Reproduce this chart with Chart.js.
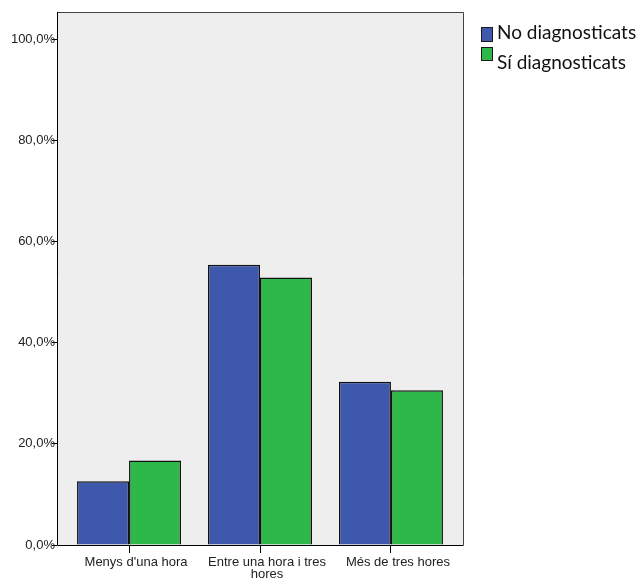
<!DOCTYPE html>
<html>
<head>
<meta charset="utf-8">
<script src="https://cdn.jsdelivr.net/npm/chart.js@4/dist/chart.umd.min.js"></script>
<style>
html,body{margin:0;padding:0;background:#fff;}
canvas{display:block;}
</style>
</head>
<body>
<canvas id="c" width="644" height="584"></canvas>
<script>
const categories = ["Menys d'una hora", ["Entre una hora i tres", "hores"], "Més de tres hores"];
const seriesNames = ["No diagnosticats", "Sí diagnosticats"];
const noDiagnosticats = [12.6, 55.4, 32.3];
const siDiagnosticats = [16.7, 52.9, 30.6];
const yTicks = [0, 20, 40, 60, 80, 100];
const seriesColors = ["#3E58AC", "#2EB84A"];

const toPoints = arr => arr.map((v, i) => ({x: i, y: v}));

const frame = {
  id: 'frame',
  beforeDatasetsDraw(chart) {
    const a = chart.chartArea, c = chart.ctx;
    c.save();
    c.fillStyle = '#EEEEEE';
    c.fillRect(a.left, a.top, a.right - a.left, a.bottom - a.top);
    c.restore();
  },
  afterDraw(chart) {
    const a = chart.chartArea, c = chart.ctx;
    c.save();
    c.lineWidth = 1;
    c.strokeStyle = '#444';
    c.beginPath();
    c.moveTo(a.left, a.top + 0.5); c.lineTo(a.right + 0.5, a.top + 0.5);
    c.lineTo(a.right + 0.5, a.bottom);
    c.stroke();
    c.strokeStyle = '#000';
    c.beginPath();
    c.moveTo(a.left + 0.5, a.top); c.lineTo(a.left + 0.5, a.bottom + 0.5);
    c.lineTo(a.right + 0.5, a.bottom + 0.5);
    c.stroke();
    // legend
    c.font = '19px Lato';
    c.textBaseline = 'alphabetic';
    c.textAlign = 'left';
    const boxes = [{y: 27, h: 15, ty: 38.5}, {y: 47, h: 14, ty: 69}];
    chart.data.datasets.forEach((ds, i) => {
      const b = boxes[i];
      c.fillStyle = ds.backgroundColor;
      c.fillRect(481, b.y, 12, b.h);
      c.strokeStyle = '#1a1a1a';
      c.strokeRect(481.5, b.y + 0.5, 11, b.h - 1);
      c.fillStyle = '#111';
      c.fillText(ds.label, 497, b.ty);
    });
    c.restore();
  }
};

new Chart(document.getElementById('c'), {
  type: 'bar',
  data: {
    datasets: [
      {label: seriesNames[0], data: toPoints(noDiagnosticats), backgroundColor: seriesColors[0], borderColor: '#111', borderWidth: 1.5},
      {label: seriesNames[1], data: toPoints(siDiagnosticats), backgroundColor: seriesColors[1], borderColor: '#111', borderWidth: 1.5}
    ]
  },
  options: {
    responsive: false,
    animation: false,
    devicePixelRatio: 1,
    categoryPercentage: 0.794,
    barPercentage: 1,
    layout: {padding: {left: 0, top: 12, right: 181, bottom: 0}},
    plugins: {legend: {display: false}, tooltip: {enabled: false}},
    scales: {
      x: {
        type: 'linear',
        offset: false,
        min: -0.55,
        max: 2.55,
        afterBuildTicks(s) { s.ticks = categories.map((_, i) => ({value: i})); },
        afterFit(s) { s.height = 39; },
        border: {display: false},
        grid: {display: true, offset: false, drawOnChartArea: false, drawTicks: true, tickLength: 8, color: '#000'},
        ticks: {
          autoSkip: false, maxRotation: 0, padding: 3, labelOffset: 7,
          color: '#222',
          font: {family: 'Liberation Sans', size: 13, lineHeight: 0.95},
          callback: v => categories[v]
        }
      },
      y: {
        min: 0,
        max: 105.4,
        afterBuildTicks(s) { s.ticks = yTicks.map(v => ({value: v})); },
        afterFit(s) { s.width = 57; },
        border: {display: false},
        grid: {display: true, drawOnChartArea: false, drawTicks: true, tickLength: 5, color: '#000'},
        ticks: {
          padding: -3,
          color: '#222',
          font: {family: 'Liberation Sans', size: 13},
          callback: v => v.toFixed(1).replace('.', ',') + '%'
        }
      }
    }
  },
  plugins: [frame]
});
</script>
</body>
</html>
